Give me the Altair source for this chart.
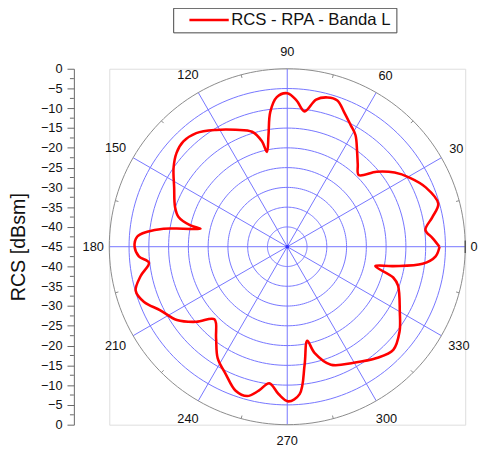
import altair as alt
import pandas as pd

# ---------------- data ----------------
series_name = "RCS - RPA - Banda L"
angles = [0, 3.4, 6.9, 11.6, 15.9, 23.2, 29.5, 34.6, 40, 45.1, 49.4, 53.8, 58.6, 62.5,
          67.2, 71.1, 74.9, 78.9, 82.7, 86.4, 90, 94, 97.2, 99.5, 102.1, 103.5, 107,
          113.8, 121.4, 128.7, 134.6, 139.7, 145.2, 152.3, 160.5, 164.7, 167.5, 168.3,
          170.2, 171.7, 173.9, 176.1, 180, 183.7, 186.6, 191.3, 196.2, 201.1, 206.6,
          213.6, 219.6, 224.9, 232.1, 238, 244.3, 250.3, 255, 258.8, 262.5, 266.6,
          270.4, 274.8, 278.4, 282, 284.4, 290.3, 299.8, 308.8, 315.8, 322.9, 329.9,
          340.6, 343.8, 347.6, 349.6, 352.8, 356.3, 360]
rcs = [-6.5, -8.2, -9.8, -7.5, -5.3, -6.9, -9.5, -12, -15.5, -19.4, -17.6, -15.1, -11.9,
       -10.3, -8, -5.9, -5.9, -7.1, -10.5, -7.9, -6.2, -7.1, -10.7, -16.3, -20.5, -17.6,
       -14.6, -12.7, -10.4, -8.2, -7.6, -8.3, -10, -12.7, -14.9, -16.5, -19.8, -22.6,
       -18.3, -13.4, -9.4, -7, -6.4, -7.4, -9.8, -7.2, -5.1, -6.2, -9.1, -11.5, -15.2,
       -19, -15.7, -11.8, -9.2, -6.3, -5.9, -7.9, -10.2, -7.7, -5.9, -7.6, -14.9, -20.7,
       -17.3, -13.2, -11.2, -8.9, -7.6, -9.4, -12.1, -15.3, -17.1, -22.2, -17.8, -10.5,
       -7.4, -6.5]

r_min, r_max = -45, 0            # radial axis (dBsm): centre .. outer circle
ring_levels = [-40, -35, -30, -25, -20, -15, -10, -5]
spoke_angles = [0, 30, 60, 90, 120, 150, 180, 210, 240, 270, 300, 330]
minor_angles = [15, 45, 75, 105, 135, 165, 195, 225, 255, 285, 315, 345]
axis_values = list(range(-45, 50, 5))
minor_axis_values = [v + 2.5 for v in range(-45, 45, 5)]

# ---------------- layout ----------------
W = 362                      # plot square (px)
SPAN = r_max - r_min         # 45
PX = W / (2 * SPAN)          # px per dB
FONT = "Liberation Sans"
GRID = "#7474ff"

sc = alt.Scale(domain=[-SPAN, SPAN], nice=False, zero=False)

curve_df = pd.DataFrame({"angle": angles, "rcs": rcs})
curve_df["series"] = series_name
curve_df["i"] = range(len(curve_df))

curve = alt.Chart(curve_df).transform_calculate(
    x=f"(datum.rcs - ({r_min})) * cos(datum.angle * PI / 180)",
    y=f"(datum.rcs - ({r_min})) * sin(datum.angle * PI / 180)",
).mark_line(strokeWidth=2.6, interpolate="catmull-rom").encode(
    x=alt.X("x:Q", scale=sc, axis=None),
    y=alt.Y("y:Q", scale=sc, axis=None),
    order="i:Q",
    color=alt.Color(
        "series:N",
        scale=alt.Scale(domain=[series_name], range=["#ff0000"]),
        legend=alt.Legend(
            title=None, orient="none", legendX=65, legendY=-62,
            direction="horizontal",
            symbolType="M-4,0H4", symbolSize=100, symbolStrokeWidth=2.6,
            symbolOffset=24, labelOffset=14, labelLimit=400,
            labelFont=FONT, labelFontSize=17, labelColor="#111111",
            strokeColor="#444444", fillColor="white", padding=4,
        ),
    ),
)

def ring_layer(levels, color):
    df = pd.DataFrame({"level": levels})
    return alt.Chart(df).transform_calculate(
        t="sequence(0, 361, 2)"
    ).transform_flatten(["t"]).transform_calculate(
        x=f"(datum.level - ({r_min})) * cos(datum.t * PI / 180)",
        y=f"(datum.level - ({r_min})) * sin(datum.t * PI / 180)",
    ).mark_line(strokeWidth=1, color=color).encode(
        x=alt.X("x:Q", scale=sc, axis=None),
        y=alt.Y("y:Q", scale=sc, axis=None),
        detail="level:N",
        order="t:Q",
    )

rings = ring_layer(ring_levels, GRID)
outer = ring_layer([r_max], "#8a8a8a")

spokes = alt.Chart(pd.DataFrame({"a": spoke_angles})).transform_calculate(
    x0="0", y0="0",
    x1=f"{SPAN} * cos(datum.a * PI / 180)",
    y1=f"{SPAN} * sin(datum.a * PI / 180)",
).mark_rule(strokeWidth=1, color=GRID).encode(
    x=alt.X("x0:Q", scale=sc, axis=None),
    y=alt.Y("y0:Q", scale=sc, axis=None),
    x2="x1:Q", y2="y1:Q",
)

minor = alt.Chart(pd.DataFrame({"a": minor_angles})).transform_calculate(
    x0=f"{SPAN} * cos(datum.a * PI / 180)",
    y0=f"{SPAN} * sin(datum.a * PI / 180)",
    x1=f"{SPAN - 0.8} * cos(datum.a * PI / 180)",
    y1=f"{SPAN - 0.8} * sin(datum.a * PI / 180)",
).mark_rule(strokeWidth=1, color="#8a8a8a").encode(
    x=alt.X("x0:Q", scale=sc, axis=None),
    y=alt.Y("y0:Q", scale=sc, axis=None),
    x2="x1:Q", y2="y1:Q",
)

end_tick = alt.Chart(pd.DataFrame({"a": [0]})).transform_calculate(
    x0=f"{SPAN}", y0="-1.6", y1="1.6",
).mark_rule(strokeWidth=1.2, color="#444444").encode(
    x=alt.X("x0:Q", scale=sc, axis=None),
    y=alt.Y("y0:Q", scale=sc, axis=None),
    y2="y1:Q",
)

centre = alt.Chart(pd.DataFrame({"a": [0]})).transform_calculate(
    x0="0", y0="0"
).mark_point(filled=True, size=14, color="#3030ff", opacity=1).encode(
    x=alt.X("x0:Q", scale=sc, axis=None),
    y=alt.Y("y0:Q", scale=sc, axis=None),
)

labels_df = pd.DataFrame({"a": spoke_angles, "label": [str(a) for a in spoke_angles]})
angle_labels = alt.Chart(labels_df).transform_calculate(
    rl=f"{SPAN} + (5.5 + length(datum.label) * 3.6 * abs(cos(datum.a * PI / 180)) + 11.5 * abs(sin(datum.a * PI / 180))) / {PX}",
).transform_calculate(
    x="datum.rl * cos(datum.a * PI / 180)",
    y="datum.rl * sin(datum.a * PI / 180)",
).mark_text(font=FONT, fontSize=13, color="#111111", align="center", baseline="middle").encode(
    x=alt.X("x:Q", scale=sc, axis=None),
    y=alt.Y("y:Q", scale=sc, axis=None),
    text="label:N",
)

# left radial axis (0 at top and bottom, -45 at the centre)
axis_df = pd.DataFrame({"v": axis_values})
left_axis = alt.Chart(axis_df).mark_point(opacity=0).encode(
    y=alt.Y(
        "v:Q", scale=sc,
        axis=alt.Axis(
            orient="left",
            title="RCS [dBsm]", titleFont=FONT, titleFontSize=20, titleFontWeight="normal",
            titleColor="#111111", titlePadding=12,
            values=axis_values, labelExpr=f"format(abs(datum.value) + ({r_min}), 'd')",
            labelFont=FONT, labelFontSize=13, labelColor="#111111", labelPadding=5,
            tickSize=7, tickColor="#666666", domainColor="#666666",
            offset=36, grid=False, labelOverlap=False,
        ),
    ),
)

axis_minor = alt.Chart(pd.DataFrame({"v": minor_axis_values})).mark_rule(
    strokeWidth=1, color="#666666"
).encode(
    y=alt.Y("v:Q", scale=sc, axis=None),
    x=alt.value(-40), x2=alt.value(-36),
)

chart = alt.layer(
    rings, spokes, outer, minor, end_tick, centre, curve, angle_labels, left_axis, axis_minor
).resolve_axis(x="independent", y="independent").properties(
    width=W, height=W,
    autosize=alt.AutoSizeParams(type="none"),
    padding={"left": 103, "top": 58, "right": 13, "bottom": 24},
).configure_view(strokeWidth=0).configure(font=FONT)

chart.save("out.html", embed_options={"renderer": "svg", "actions": False})
